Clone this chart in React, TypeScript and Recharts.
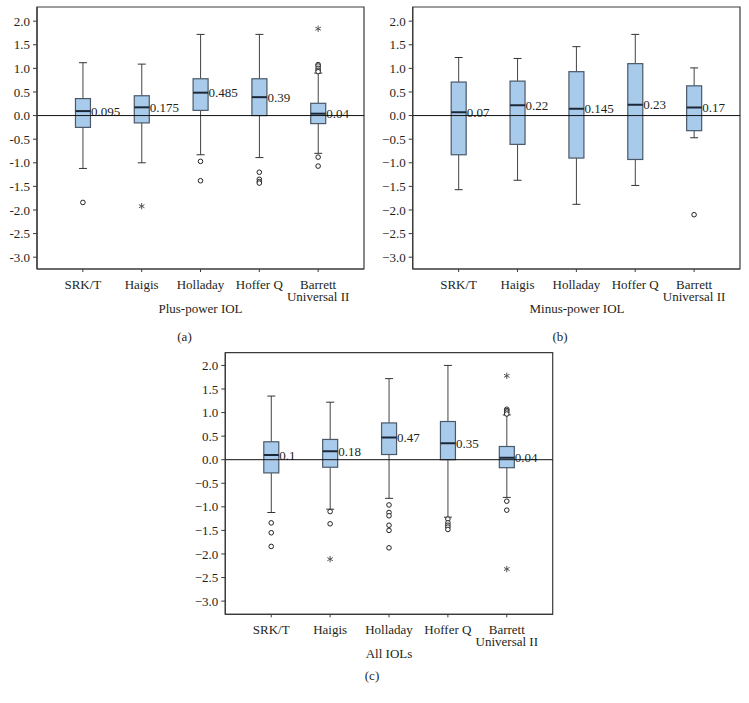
import React from 'react';
import { ComposedChart, Bar, Scatter, XAxis, YAxis, ReferenceLine, ReferenceArea } from 'recharts';

// ---------- shared ----------
const categories = ['SRK/T', 'Haigis', 'Holladay', 'Hoffer Q', 'Barrett\nUniversal II'];
const categoryIndex = [1, 2, 3, 4, 5];
const yTicks = [2.0, 1.5, 1.0, 0.5, 0.0, -0.5, -1.0, -1.5, -2.0, -2.5, -3.0];

// ---------- (a) Plus-power IOL ----------
const plusWhiskerLow = [-1.12, -1.0, -0.83, -0.89, -0.8];
const plusQ1 = [-0.25, -0.155, 0.11, 0.0, -0.17];
const plusMedian = [0.095, 0.175, 0.485, 0.39, 0.04];
const plusQ3 = [0.36, 0.42, 0.78, 0.78, 0.26];
const plusWhiskerHigh = [1.12, 1.09, 1.72, 1.72, 0.9];
const plusCircles = [[-1.84], [], [-0.97, -1.38], [-1.2, -1.35, -1.4, -1.43], [1.08, 1.05, 1.0, 0.96, 0.93, -0.88, -1.07]];
const plusStars = [[], [-1.92], [], [], [1.84]];

// ---------- (b) Minus-power IOL ----------
const minusWhiskerLow = [-1.57, -1.37, -1.88, -1.48, -0.47];
const minusQ1 = [-0.83, -0.61, -0.9, -0.93, -0.32];
const minusMedian = [0.07, 0.22, 0.145, 0.23, 0.17];
const minusQ3 = [0.71, 0.73, 0.93, 1.1, 0.63];
const minusWhiskerHigh = [1.23, 1.21, 1.46, 1.72, 1.01];
const minusCircles = [[], [], [], [], [-2.1]];
const minusStars = [[], [], [], [], []];

// ---------- (c) All IOLs ----------
const allWhiskerLow = [-1.12, -1.05, -0.82, -1.22, -0.8];
const allQ1 = [-0.28, -0.16, 0.11, 0.0, -0.17];
const allMedian = [0.1, 0.18, 0.47, 0.35, 0.04];
const allQ3 = [0.38, 0.43, 0.78, 0.81, 0.28];
const allWhiskerHigh = [1.35, 1.22, 1.72, 2.0, 0.95];
const allCircles = [
  [-1.34, -1.55, -1.84],
  [-1.1, -1.36],
  [-0.96, -1.12, -1.19, -1.39, -1.5, -1.87],
  [-1.26, -1.34, -1.39, -1.43, -1.48],
  [1.07, 1.04, 1.01, 0.97, -0.88, -1.07],
];
const allStars = [[], [-2.11], [], [], [1.78, -2.32]];

const FONT = "'Liberation Serif', 'DejaVu Serif', serif";
const TEXT = '#231f20';
const FRAME = '#3a3a3a';
const textStyle = { fontFamily: FONT, fontSize: 13 };

function buildRows(lo: number[], q1: number[], med: number[], q3: number[], hi: number[]) {
  return categoryIndex.map((x, i) => ({
    x,
    range: [lo[i], hi[i]],
    wLo: lo[i],
    q1: q1[i],
    med: med[i],
    q3: q3[i],
    wHi: hi[i],
  }));
}

function buildPoints(groups: number[][]) {
  const pts: { x: number; y: number }[] = [];
  groups.forEach((g, i) => g.forEach((v) => pts.push({ x: categoryIndex[i], y: v })));
  return pts;
}

const BoxShape = (props: any) => {
  const { x, y, width, height, payload } = props;
  if (!payload) return null;
  const top = Math.min(y, y + height);
  const h = Math.abs(height);
  const span = payload.wHi - payload.wLo;
  const toPix = (v: number) => top + ((payload.wHi - v) / span) * h;
  const cx = x + width / 2;
  const yHi = toPix(payload.wHi);
  const yLo = toPix(payload.wLo);
  const yQ3 = toPix(payload.q3);
  const yQ1 = toPix(payload.q1);
  const yMed = toPix(payload.med);
  const cap = 4;
  return (
    <g>
      <line x1={cx} x2={cx} y1={yHi} y2={yQ3} stroke="#444" strokeWidth={1} />
      <line x1={cx} x2={cx} y1={yQ1} y2={yLo} stroke="#444" strokeWidth={1} />
      <line x1={cx - cap} x2={cx + cap} y1={yHi} y2={yHi} stroke="#333" strokeWidth={1} />
      <line x1={cx - cap} x2={cx + cap} y1={yLo} y2={yLo} stroke="#333" strokeWidth={1} />
      <rect x={x} y={yQ3} width={width} height={yQ1 - yQ3} fill="#a8cbeb" stroke="#4a5868" strokeWidth={1.2} />
      <line x1={x} x2={x + width} y1={yMed} y2={yMed} stroke="#1c2838" strokeWidth={2} />
      <text x={x + width + 0.5} y={yMed} dy="0.35em" style={textStyle} fill={TEXT}>
        {String(payload.med)}
      </text>
    </g>
  );
};

const CircleShape = (p: any) => (
  <circle cx={p.cx} cy={p.cy} r={2.3} fill="#fff" stroke="#222" strokeWidth={1} />
);

const StarShape = (p: any) => {
  const r = 3.2;
  const a = Math.cos(Math.PI / 6) * r;
  const b = Math.sin(Math.PI / 6) * r;
  return (
    <g stroke="#555" strokeWidth={1}>
      <line x1={p.cx} x2={p.cx} y1={p.cy - r} y2={p.cy + r} />
      <line x1={p.cx - a} x2={p.cx + a} y1={p.cy - b} y2={p.cy + b} />
      <line x1={p.cx - a} x2={p.cx + a} y1={p.cy + b} y2={p.cy - b} />
    </g>
  );
};

const CatTick = (props: any) => {
  const { x, y, payload } = props;
  const label = categories[Math.round(payload.value) - 1] || '';
  const lines = label.split('\n');
  return (
    <text x={x} y={y + 15} textAnchor="middle" style={textStyle} fill={TEXT}>
      {lines.map((l: string, i: number) => (
        <tspan key={i} x={x} dy={i === 0 ? 0 : 11.7}>
          {l}
        </tspan>
      ))}
    </text>
  );
};

const makeYTick = (minus: string) => (props: any) => {
  const { x, y, payload } = props;
  const v = Number(payload.value);
  const s = (v < 0 ? minus : '') + Math.abs(v).toFixed(1);
  return (
    <text x={x} y={y} dy="0.35em" textAnchor="end" style={textStyle} fill={TEXT}>
      {s}
    </text>
  );
};

const X_DOMAIN: [number, number] = [0.22, 5.78];

type PanelProps = {
  rows: any[];
  circles: { x: number; y: number }[];
  stars: { x: number; y: number }[];
  yDomain: [number, number];
  minus: string;
  margin: { top: number; left: number; right: number; bottom: number };
  yWidth: number;
  xHeight: number;
};

const Panel = ({ rows, circles, stars, yDomain, minus, margin, yWidth, xHeight }: PanelProps) => (
  <ComposedChart width={370} height={335} data={rows} margin={margin}>
    <XAxis
      dataKey="x"
      type="number"
      domain={X_DOMAIN}
      ticks={categoryIndex}
      allowDataOverflow
      height={xHeight}
      tickSize={3}
      tickMargin={2}
      tick={(p: any) => <CatTick {...p} />}
      axisLine={{ stroke: FRAME, strokeWidth: 1.2 }}
      tickLine={{ stroke: FRAME }}
      interval={0}
    />
    <YAxis
      type="number"
      domain={yDomain}
      ticks={yTicks}
      allowDataOverflow
      width={yWidth}
      tickSize={4}
      tickMargin={3}
      tick={makeYTick(minus)}
      axisLine={{ stroke: FRAME, strokeWidth: 1.2 }}
      tickLine={{ stroke: FRAME }}
      interval={0}
    />
    <ReferenceArea
      x1={X_DOMAIN[0]}
      x2={X_DOMAIN[1]}
      y1={yDomain[0]}
      y2={yDomain[1]}
      fill="none"
      fillOpacity={0}
      stroke={FRAME}
      strokeWidth={1.2}
      ifOverflow="visible"
    />
    <ReferenceLine y={0} stroke="#111" strokeWidth={1} />
    <Bar dataKey="range" barSize={15} isAnimationActive={false} shape={(p: any) => <BoxShape {...p} />} />
    <Scatter data={circles} dataKey="y" isAnimationActive={false} shape={(p: any) => <CircleShape {...p} />} />
    <Scatter data={stars} dataKey="y" isAnimationActive={false} shape={(p: any) => <StarShape {...p} />} />
  </ComposedChart>
);

const plusRows = buildRows(plusWhiskerLow, plusQ1, plusMedian, plusQ3, plusWhiskerHigh);
const minusRows = buildRows(minusWhiskerLow, minusQ1, minusMedian, minusQ3, minusWhiskerHigh);
const allRows = buildRows(allWhiskerLow, allQ1, allMedian, allQ3, allWhiskerHigh);

export default function App() {
  return (
    <div style={{ position: 'absolute', left: 0, top: 0, width: 749, height: 703, background: '#fff' }}>
      <div style={{ position: 'absolute', left: 0, top: 0 }}>
        <Panel
          rows={plusRows}
          circles={buildPoints(plusCircles)}
          stars={buildPoints(plusStars)}
          yDomain={[-3.25, 2.3]}
          minus="-"
          yWidth={37}
          xHeight={66}
          margin={{ top: 7, left: 0, right: 6, bottom: 0 }}
        />
      </div>
      <div style={{ position: 'absolute', left: 376, top: 0 }}>
        <Panel
          rows={minusRows}
          circles={buildPoints(minusCircles)}
          stars={buildPoints(minusStars)}
          yDomain={[-3.25, 2.3]}
          minus="−"
          yWidth={36.7}
          xHeight={66}
          margin={{ top: 7, left: 0, right: 6, bottom: 0 }}
        />
      </div>
      <div style={{ position: 'absolute', left: 188, top: 346 }}>
        <Panel
          rows={allRows}
          circles={buildPoints(allCircles)}
          stars={buildPoints(allStars)}
          yDomain={[-3.28, 2.27]}
          minus="−"
          yWidth={37.3}
          xHeight={66.7}
          margin={{ top: 6.7, left: 0, right: 5.3, bottom: 0 }}
        />
      </div>
      <svg width={749} height={703} style={{ position: 'absolute', left: 0, top: 0, pointerEvents: 'none' }}>
        <g style={textStyle} fill={TEXT} textAnchor="middle">
          <text x={200.5} y={313}>Plus-power IOL</text>
          <text x={184.5} y={341}>(a)</text>
          <text x={577} y={313}>Minus-power IOL</text>
          <text x={560} y={341}>(b)</text>
          <text x={389} y={658}>All IOLs</text>
          <text x={372} y={680}>(c)</text>
        </g>
      </svg>
    </div>
  );
}
